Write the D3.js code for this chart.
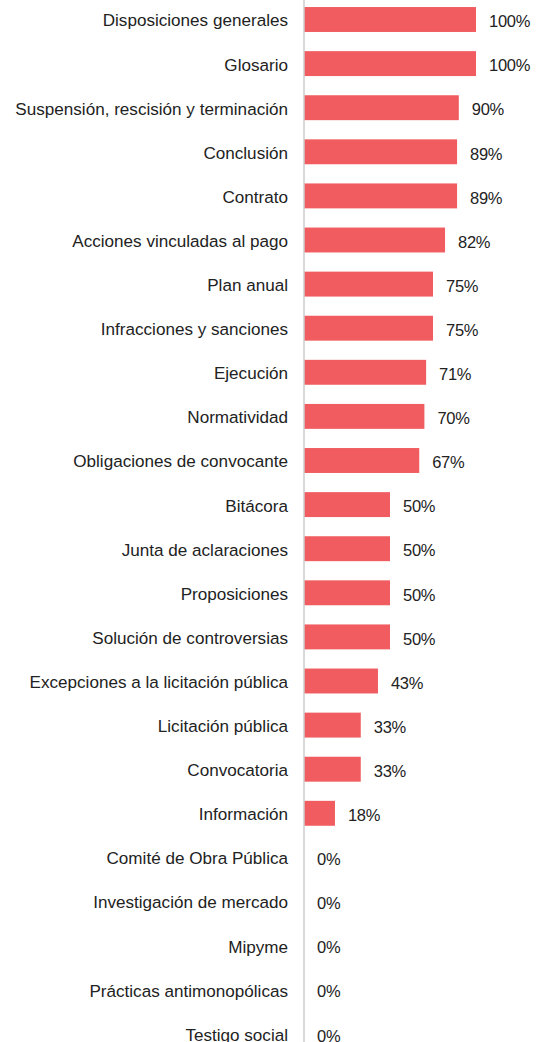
<!DOCTYPE html>
<html><head><meta charset="utf-8">
<script src="https://cdn.jsdelivr.net/npm/d3@7"></script>
<style>body{margin:0;background:#fff}svg{display:block}</style>
</head><body>
<script>
const categories = ["Disposiciones generales","Glosario","Suspensión, rescisión y terminación","Conclusión","Contrato","Acciones vinculadas al pago","Plan anual","Infracciones y sanciones","Ejecución","Normatividad","Obligaciones de convocante","Bitácora","Junta de aclaraciones","Proposiciones","Solución de controversias","Excepciones a la licitación pública","Licitación pública","Convocatoria","Información","Comité de Obra Pública","Investigación de mercado","Mipyme","Prácticas antimonopólicas","Testigo social"];
const values = [100,100,90,89,89,82,75,75,71,70,67,50,50,50,50,43,33,33,18,0,0,0,0,0];

const W = 548, H = 1042;
const x0 = 304, xMax = 476;
const step = 44.1, firstCenter = 19.5;
const svg = d3.select("body").append("svg").attr("width", W).attr("height", H);

const y = d3.scaleBand().domain(categories)
  .range([firstCenter - step/2, firstCenter - step/2 + step*categories.length])
  .paddingInner(0.435).paddingOuter(0.2175);
const x = d3.scaleLinear().domain([0,100]).range([x0, xMax]);

svg.append("g").selectAll("rect").data(categories).join("rect")
  .attr("x", x(0)).attr("y", d => y(d))
  .attr("width", (d,i) => x(values[i]) - x(0))
  .attr("height", y.bandwidth())
  .attr("fill", "#f05c5f");

svg.append("line").attr("x1", x0).attr("x2", x0).attr("y1", 0).attr("y2", H)
  .attr("stroke", "#cccccc").attr("stroke-width", 1.5);

const font = "'Liberation Sans', Arial, sans-serif";
svg.append("g").selectAll("text").data(categories).join("text")
  .attr("x", 288).attr("y", d => y(d) + y.bandwidth()/2 + 1)
  .attr("dy", "0.35em").attr("text-anchor", "end")
  .attr("font-family", font).attr("font-size", 17.1)
  .attr("fill", "#222").text(d => d);

svg.append("g").selectAll("text").data(categories).join("text")
  .attr("x", (d,i) => x(values[i]) + 13).attr("y", d => y(d) + y.bandwidth()/2 + 2)
  .attr("dy", "0.35em")
  .attr("font-family", font).attr("font-size", 16.5).attr("letter-spacing", -0.3)
  .attr("fill", "#222").text((d,i) => values[i] + "%");
</script>
</body></html>
